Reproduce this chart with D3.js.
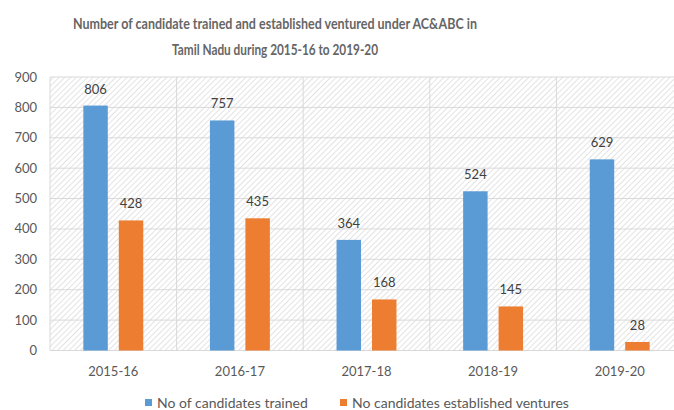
<!DOCTYPE html>
<html lang="en">
<head>
<meta charset="UTF-8">
<title>AC&ABC Tamil Nadu</title>
<style>
  body { margin: 0; background: #fff; }
  text { font-family: Lato, "Open Sans", sans-serif; }
</style>
</head>
<body>
<div id="chart"></div>
<script src="https://cdn.jsdelivr.net/npm/d3@7"></script>
<script>
// chart data
var years = ["2015-16", "2016-17", "2017-18", "2018-19", "2019-20"];
var seriesNames = ["No of candidates trained", "No candidates established ventures"];
var trained = [806, 757, 364, 524, 629];
var ventures = [428, 435, 168, 145, 28];
var yTicks = [0, 100, 200, 300, 400, 500, 600, 700, 800, 900];
var colors = ["#5b9bd5", "#ed7d31"];

var width = 674, height = 410;
var plot = {left: 50, right: 683, top: 77, bottom: 350.5};

var svg = d3.select("#chart").append("svg")
    .attr("width", width)
    .attr("height", height);

// hatched background
var defs = svg.append("defs");
var pat = defs.append("pattern")
    .attr("id", "hatch")
    .attr("patternUnits", "userSpaceOnUse")
    .attr("width", 4).attr("height", 4)
    .attr("patternTransform", "rotate(45)");
pat.append("rect").attr("width", 4).attr("height", 4).attr("fill", "#fff");
pat.append("line")
    .attr("x1", 0).attr("y1", 0).attr("x2", 0).attr("y2", 4)
    .attr("stroke", "#dcdcdc").attr("stroke-width", 1.6);

var x0 = d3.scaleBand().domain(years).range([plot.left, plot.right]);
var x1 = d3.scaleBand().domain([0, 1]).range([0, x0.bandwidth()])
    .paddingInner(0.31).paddingOuter(0.94);
var y = d3.scaleLinear().domain([0, 900]).range([plot.bottom, plot.top]);

svg.append("rect")
    .attr("x", plot.left).attr("y", plot.top)
    .attr("width", plot.right - plot.left).attr("height", plot.bottom - plot.top)
    .attr("fill", "url(#hatch)");

// horizontal gridlines
svg.append("g").selectAll("line")
    .data(yTicks).enter().append("line")
    .attr("x1", plot.left).attr("x2", plot.right)
    .attr("y1", function (d) { return y(d); })
    .attr("y2", function (d) { return y(d); })
    .attr("stroke", "#d9d9d9").attr("stroke-width", 1);

// vertical category separators
svg.append("g").selectAll("line")
    .data(years.concat(["end"])).enter().append("line")
    .attr("x1", function (d, i) { return plot.left + i * x0.step(); })
    .attr("x2", function (d, i) { return plot.left + i * x0.step(); })
    .attr("y1", plot.top).attr("y2", plot.bottom)
    .attr("stroke", "#d9d9d9").attr("stroke-width", 1);

// y axis labels
svg.append("g").selectAll("text")
    .data(yTicks).enter().append("text")
    .attr("x", 37)
    .attr("y", function (d) { return y(d); })
    .attr("dy", "0.35em")
    .attr("text-anchor", "end")
    .attr("font-size", 13)
    .attr("fill", "#595959")
    .text(function (d) { return d; });

// x axis labels
svg.append("g").selectAll("text")
    .data(years).enter().append("text")
    .attr("x", function (d) { return x0(d) + x0.bandwidth() / 2; })
    .attr("y", 376)
    .attr("text-anchor", "middle")
    .attr("font-size", 13)
    .attr("fill", "#595959")
    .text(function (d) { return d; });

// bars
var rows = years.map(function (yr, i) {
    return {year: yr, values: [trained[i], ventures[i]]};
});

var groups = svg.append("g").selectAll("g")
    .data(rows).enter().append("g")
    .attr("transform", function (d) { return "translate(" + x0(d.year) + ",0)"; });

groups.selectAll("rect")
    .data(function (d) { return d.values.map(function (v, k) { return {k: k, v: v}; }); })
    .enter().append("rect")
    .attr("x", function (d) { return x1(d.k); })
    .attr("y", function (d) { return y(d.v); })
    .attr("width", x1.bandwidth())
    .attr("height", function (d) { return y(0) - y(d.v); })
    .attr("fill", function (d) { return colors[d.k]; });

// data labels
groups.selectAll("text")
    .data(function (d) { return d.values.map(function (v, k) { return {k: k, v: v}; }); })
    .enter().append("text")
    .attr("x", function (d) { return x1(d.k) + x1.bandwidth() / 2; })
    .attr("y", function (d) { return y(d.v) - 12; })
    .attr("text-anchor", "middle")
    .attr("font-size", 13)
    .attr("fill", "#404040")
    .text(function (d) { return d.v; });

// title (Calibri-like narrow widths)
var title = svg.append("text")
    .attr("text-anchor", "middle")
    .attr("font-size", 16)
    .attr("font-weight", "bold")
    .attr("fill", "#666");
title.append("tspan").attr("x", 275).attr("y", 29)
    .attr("textLength", 404).attr("lengthAdjust", "spacingAndGlyphs")
    .text("Number of candidate trained and established ventured under AC&ABC in");
title.append("tspan").attr("x", 275).attr("y", 55)
    .attr("textLength", 206).attr("lengthAdjust", "spacingAndGlyphs")
    .text("Tamil Nadu during 2015-16 to 2019-20");

// legend
var legendX = [145, 340];
var legend = svg.append("g").selectAll("g")
    .data(seriesNames).enter().append("g")
    .attr("transform", function (d, i) { return "translate(" + legendX[i] + ",399)"; });
legend.append("rect")
    .attr("width", 7).attr("height", 7)
    .attr("fill", function (d, i) { return colors[i]; });
legend.append("text")
    .attr("x", 12).attr("y", 4)
    .attr("dy", "0.35em")
    .attr("font-size", 14)
    .attr("fill", "#595959")
    .text(function (d) { return d; });
</script>
</body>
</html>
